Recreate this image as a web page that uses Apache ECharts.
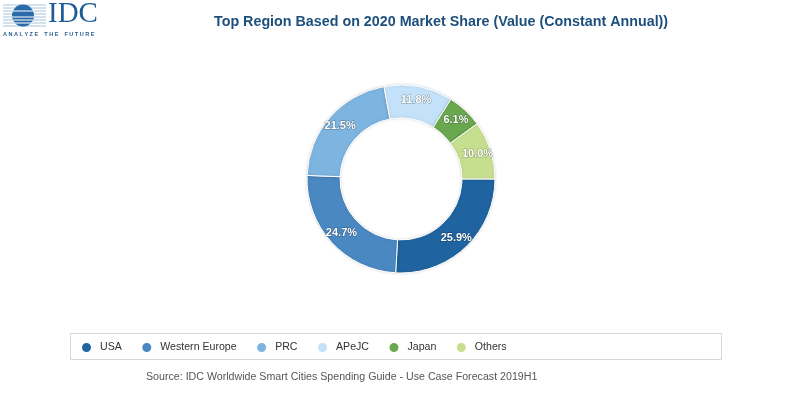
<!DOCTYPE html>
<html><head><meta charset="utf-8">
<script src="https://cdn.jsdelivr.net/npm/echarts@6/dist/echarts.min.js"></script>
<style>html,body{margin:0;padding:0;background:#fff}#c{width:800px;height:395px}</style>
</head><body><div id="c"></div>
<script>
const categories = ['USA', 'Western Europe', 'PRC', 'APeJC', 'Japan', 'Others'];
const shares = [25.9, 24.7, 21.5, 11.8, 6.1, 10.0];
const colors = ['#1f64a0', '#4a88c2', '#7db4e0', '#c3e2fa', '#6aa84f', '#c6df8f'];
const titleText = 'Top Region Based on 2020 Market Share (Value (Constant Annual))';
const sourceText = 'Source: IDC Worldwide Smart Cities Spending Guide - Use Case Forecast 2019H1';

const chart = echarts.init(document.getElementById('c'), null, {renderer: 'canvas'});
const logoLines = [];
const lineYs = [5, 8, 11, 14, 17, 20, 23, 26];
lineYs.forEach(function (y) {
  logoLines.push({type: 'line', shape: {x1: 3, y1: y, x2: 46, y2: y}, style: {stroke: '#a9c3dc', lineWidth: 1}});
});
const option = {
  animation: false,
  color: colors,
  title: {
    text: titleText, left: 209, top: 10,
    textStyle: {fontFamily: 'Liberation Sans, Arial', fontSize: 14.3, fontWeight: 'bold', color: '#1c4f7c'}
  },
  legend: {
    data: categories, left: 80, top: 341, icon: 'circle', itemWidth: 11, itemHeight: 11,
    itemGap: 18.5, padding: 0,
    textStyle: {fontFamily: 'Liberation Sans, Arial', fontSize: 10.6, color: '#333', padding: [0, 0, 0, 3]}
  },
  graphic: [
    {type: 'rect', shape: {x: 70.5, y: 333.5, width: 651, height: 26}, style: {fill: 'none', stroke: '#d8d8d8', lineWidth: 1}, z: -1},
    {type: 'text', left: 146, top: 372, style: {text: sourceText, font: '10.65px Liberation Sans, Arial', fill: '#555'}},
    {type: 'group', children: logoLines.concat([
      {type: 'circle', shape: {cx: 23, cy: 15.5, r: 11}, style: {fill: '#2a6aa8'}},
      {type: 'line', shape: {x1: 12, y1: 11, x2: 34, y2: 11}, style: {stroke: '#ffffff', lineWidth: 1}},
      {type: 'line', shape: {x1: 12, y1: 17, x2: 34, y2: 17}, style: {stroke: '#ffffff', lineWidth: 1}},
      {type: 'line', shape: {x1: 13, y1: 20, x2: 33, y2: 20}, style: {stroke: '#ffffff', lineWidth: 1}},
      {type: 'line', shape: {x1: 14, y1: 23, x2: 32, y2: 23}, style: {stroke: '#ffffff', lineWidth: 1}},
      {type: 'text', x: 48, y: 0, style: {text: 'IDC', font: '29px Liberation Serif, Times New Roman', fill: '#1f5c96'}},
      {type: 'text', x: 3, y: 31, style: {text: 'A N A L Y Z E    T H E    F U T U R E', font: 'bold 5.5px Liberation Sans, Arial', fill: '#2a5d8f'}}
    ])}
  ],
  series: [{
    type: 'pie', center: [401, 179], radius: [61, 94], startAngle: 0, clockwise: true,
    itemStyle: {borderColor: '#fff', borderWidth: 1, shadowBlur: 3, shadowColor: 'rgba(0,0,0,0.15)'},
    label: {
      position: 'inside', formatter: '{c}%', color: '#fff', fontFamily: 'Liberation Sans, Arial',
      fontSize: 11, fontWeight: 'bold', textBorderColor: 'rgba(0,0,0,0.35)', textBorderWidth: 1
    },
    labelLine: {show: false},
    emphasis: {disabled: true},
    data: categories.map(function (n, i) { return {name: n, value: shares[i].toFixed(1)}; })
  }]
};
chart.setOption(option);
</script></body></html>
